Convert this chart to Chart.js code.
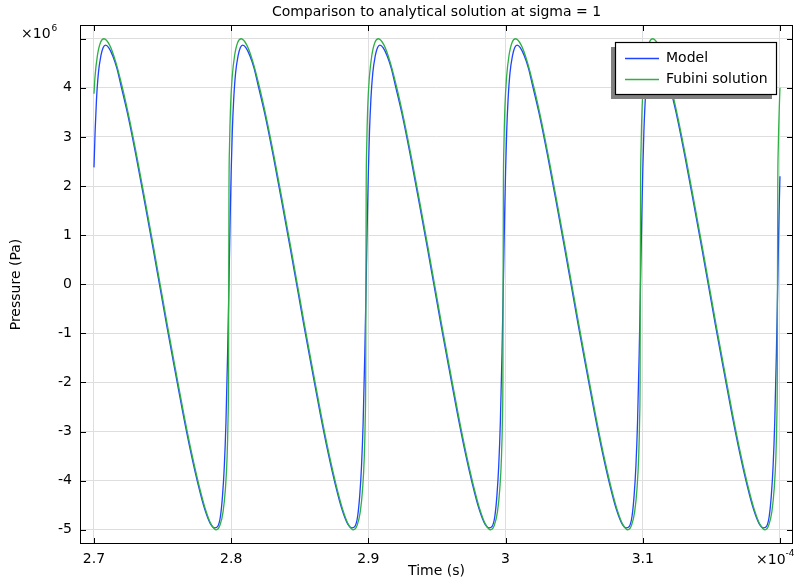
<!DOCTYPE html>
<html><head><meta charset="utf-8">
<script src="https://cdn.jsdelivr.net/npm/chart.js@4.4.1/dist/chart.umd.min.js"></script>
<style>html,body{margin:0;padding:0;background:#fff}#wrap{width:796px;height:584px}</style>
</head><body><div id="wrap"><canvas id="c" width="796" height="584"></canvas></div>
<script>
const chartTitle = 'Comparison to analytical solution at sigma = 1';
const xTitle = 'Time (s)';
const yTitle = 'Pressure (Pa)';
const seriesNames = ['Model', 'Fubini solution'];
const xTicks = [2.7, 2.8, 2.9, 3.0, 3.1, 3.2];
const xTickLabels = ['2.7', '2.8', '2.9', '3', '3.1', ''];
const yTicks = [-5, -4, -3, -2, -1, 0, 1, 2, 3, 4, 5];
const yTickLabels = ['-5', '-4', '-3', '-2', '-1', '0', '1', '2', '3', '4', ''];
const xExponent = '-4';
const yExponent = '6';

// Time in 1e-4 s, pressure in 1e6 Pa
const modelTime = [
  2.7000, 2.7008, 2.7018, 2.7032, 2.7050, 2.7067, 2.7084, 2.7107, 2.7137, 2.7167, 2.7199, 2.7252, 2.7309, 2.7369, 2.7432, 2.7477, 2.7527, 2.7590, 2.7650, 2.7707, 2.7760, 2.7807, 2.7849, 2.7880, 2.7902, 2.7922, 2.7937, 2.7950, 2.7962, 2.7974,
  2.7985, 2.7993, 2.8000, 2.8008, 2.8018, 2.8032, 2.8050, 2.8067, 2.8084, 2.8107, 2.8137, 2.8167, 2.8199, 2.8252, 2.8309, 2.8369, 2.8432, 2.8477, 2.8527, 2.8590, 2.8650, 2.8707, 2.8760, 2.8807, 2.8849, 2.8880, 2.8902, 2.8922, 2.8937, 2.8950, 2.8962, 2.8974,
  2.8985, 2.8993, 2.9000, 2.9008, 2.9018, 2.9032, 2.9050, 2.9067, 2.9084, 2.9107, 2.9137, 2.9167, 2.9199, 2.9252, 2.9309, 2.9369, 2.9432, 2.9477, 2.9527, 2.9590, 2.9650, 2.9707, 2.9760, 2.9807, 2.9849, 2.9880, 2.9902, 2.9922, 2.9937, 2.9950, 2.9962, 2.9974,
  2.9985, 2.9993, 3.0000, 3.0008, 3.0018, 3.0032, 3.0050, 3.0067, 3.0084, 3.0107, 3.0137, 3.0167, 3.0199, 3.0252, 3.0309, 3.0369, 3.0432, 3.0477, 3.0527, 3.0590, 3.0650, 3.0707, 3.0760, 3.0807, 3.0849, 3.0880, 3.0902, 3.0922, 3.0937, 3.0950, 3.0962, 3.0974,
  3.0985, 3.0993, 3.1000, 3.1008, 3.1018, 3.1032, 3.1050, 3.1067, 3.1084, 3.1107, 3.1137, 3.1167, 3.1199, 3.1252, 3.1309, 3.1369, 3.1432, 3.1477, 3.1527, 3.1590, 3.1650, 3.1707, 3.1760, 3.1807, 3.1849, 3.1880, 3.1902, 3.1922, 3.1937, 3.1950, 3.1962, 3.1974,
  3.1985, 3.1993, 3.2000
];
const modelPressure = [
  2.38, 3.10, 3.75, 4.30, 4.65, 4.82, 4.87, 4.82, 4.65, 4.40, 4.02, 3.38, 2.58, 1.68, 0.71, 0.00, -0.79, -1.75, -2.65, -3.44, -4.09, -4.58, -4.88, -4.96, -4.93, -4.72, -4.30, -3.70, -2.80, -1.40,
  0.20, 1.40, 2.30, 3.10, 3.75, 4.30, 4.65, 4.82, 4.87, 4.82, 4.65, 4.40, 4.02, 3.38, 2.58, 1.68, 0.71, 0.00, -0.79, -1.75, -2.65, -3.44, -4.09, -4.58, -4.88, -4.96, -4.93, -4.72, -4.30, -3.70, -2.80, -1.40,
  0.20, 1.40, 2.30, 3.10, 3.75, 4.30, 4.65, 4.82, 4.87, 4.82, 4.65, 4.40, 4.02, 3.38, 2.58, 1.68, 0.71, 0.00, -0.79, -1.75, -2.65, -3.44, -4.09, -4.58, -4.88, -4.96, -4.93, -4.72, -4.30, -3.70, -2.80, -1.40,
  0.20, 1.40, 2.30, 3.10, 3.75, 4.30, 4.65, 4.82, 4.87, 4.82, 4.65, 4.40, 4.02, 3.38, 2.58, 1.68, 0.71, 0.00, -0.79, -1.75, -2.65, -3.44, -4.09, -4.58, -4.88, -4.96, -4.93, -4.72, -4.30, -3.70, -2.80, -1.40,
  0.20, 1.40, 2.30, 3.10, 3.75, 4.30, 4.65, 4.82, 4.87, 4.82, 4.65, 4.40, 4.02, 3.38, 2.58, 1.68, 0.71, 0.00, -0.79, -1.75, -2.65, -3.44, -4.09, -4.58, -4.88, -4.96, -4.93, -4.72, -4.30, -3.70, -2.80, -1.40,
  0.20, 1.40, 2.20
];
const fubiniTime = [
  2.7000, 2.7007, 2.7025, 2.7048, 2.7073, 2.7114, 2.7156, 2.7204, 2.7257, 2.7314, 2.7374, 2.7437, 2.7482, 2.7532, 2.7595, 2.7655, 2.7712, 2.7765, 2.7812, 2.7854, 2.7891, 2.7918, 2.7941, 2.7958, 2.7970, 2.7977, 2.79805,
  2.7982, 2.7984, 2.7988, 2.7995, 2.8007, 2.8025, 2.8048, 2.8073, 2.8114, 2.8156, 2.8204, 2.8257, 2.8314, 2.8374, 2.8437, 2.8482, 2.8532, 2.8595, 2.8655, 2.8712, 2.8765, 2.8812, 2.8854, 2.8891, 2.8918, 2.8941, 2.8958, 2.8970, 2.8977, 2.89805,
  2.8982, 2.8984, 2.8988, 2.8995, 2.9007, 2.9025, 2.9048, 2.9073, 2.9114, 2.9156, 2.9204, 2.9257, 2.9314, 2.9374, 2.9437, 2.9482, 2.9532, 2.9595, 2.9655, 2.9712, 2.9765, 2.9812, 2.9854, 2.9891, 2.9918, 2.9941, 2.9958, 2.9970, 2.9977, 2.99805,
  2.9982, 2.9984, 2.9988, 2.9995, 3.0007, 3.0025, 3.0048, 3.0073, 3.0114, 3.0156, 3.0204, 3.0257, 3.0314, 3.0374, 3.0437, 3.0482, 3.0532, 3.0595, 3.0655, 3.0712, 3.0765, 3.0812, 3.0854, 3.0891, 3.0918, 3.0941, 3.0958, 3.0970, 3.0977, 3.09805,
  3.0982, 3.0984, 3.0988, 3.0995, 3.1007, 3.1025, 3.1048, 3.1073, 3.1114, 3.1156, 3.1204, 3.1257, 3.1314, 3.1374, 3.1437, 3.1482, 3.1532, 3.1595, 3.1655, 3.1712, 3.1765, 3.1812, 3.1854, 3.1891, 3.1918, 3.1941, 3.1958, 3.1970, 3.1977, 3.19805,
  3.1982, 3.1984, 3.1988, 3.1995, 3.2000
];
const fubiniPressure = [
  3.88, 4.21, 4.66, 4.93, 5.00, 4.87, 4.55, 4.04, 3.38, 2.58, 1.68, 0.71, 0.00, -0.79, -1.75, -2.65, -3.44, -4.09, -4.58, -4.89, -5.00, -4.91, -4.63, -4.16, -3.53, -2.75, -1.87,
  0.00, 1.95, 2.82, 3.59, 4.21, 4.66, 4.93, 5.00, 4.87, 4.55, 4.04, 3.38, 2.58, 1.68, 0.71, 0.00, -0.79, -1.75, -2.65, -3.44, -4.09, -4.58, -4.89, -5.00, -4.91, -4.63, -4.16, -3.53, -2.75, -1.87,
  0.00, 1.95, 2.82, 3.59, 4.21, 4.66, 4.93, 5.00, 4.87, 4.55, 4.04, 3.38, 2.58, 1.68, 0.71, 0.00, -0.79, -1.75, -2.65, -3.44, -4.09, -4.58, -4.89, -5.00, -4.91, -4.63, -4.16, -3.53, -2.75, -1.87,
  0.00, 1.95, 2.82, 3.59, 4.21, 4.66, 4.93, 5.00, 4.87, 4.55, 4.04, 3.38, 2.58, 1.68, 0.71, 0.00, -0.79, -1.75, -2.65, -3.44, -4.09, -4.58, -4.89, -5.00, -4.91, -4.63, -4.16, -3.53, -2.75, -1.87,
  0.00, 1.95, 2.82, 3.59, 4.21, 4.66, 4.93, 5.00, 4.87, 4.55, 4.04, 3.38, 2.58, 1.68, 0.71, 0.00, -0.79, -1.75, -2.65, -3.44, -4.09, -4.58, -4.89, -5.00, -4.91, -4.63, -4.16, -3.53, -2.75, -1.87,
  0.00, 1.95, 2.82, 3.59, 4.00
];

const colors = ['#1f44ff', '#2fb044'];
const FONT = 'DejaVu Sans';
const FS = 14;

const toPoints = (xs, ys) => xs.map((x, i) => ({x, y: ys[i]}));

const decorations = {
  id: 'decorations',
  afterDraw(chart) {
    const {ctx, chartArea: a, scales: {x, y}} = chart;
    ctx.save();
    // frame
    ctx.strokeStyle = '#000';
    ctx.lineWidth = 1;
    ctx.strokeRect(Math.round(a.left) + 0.5, Math.round(a.top) + 0.5,
      Math.round(a.right - a.left) - 1, Math.round(a.bottom - a.top) - 1);
    // inward ticks
    ctx.beginPath();
    xTicks.forEach(v => {
      const px = Math.round(x.getPixelForValue(v)) + 0.5;
      ctx.moveTo(px, a.bottom); ctx.lineTo(px, a.bottom - 6);
      ctx.moveTo(px, a.top); ctx.lineTo(px, a.top + 6);
    });
    yTicks.forEach(v => {
      const py = Math.round(y.getPixelForValue(v)) + 0.5;
      ctx.moveTo(a.left, py); ctx.lineTo(a.left + 6, py);
      ctx.moveTo(a.right, py); ctx.lineTo(a.right - 6, py);
    });
    ctx.stroke();
    // exponents
    ctx.fillStyle = '#000';
    ctx.textBaseline = 'alphabetic';
    ctx.textAlign = 'left';
    ctx.font = FS + 'px "' + FONT + '"';
    ctx.fillText('\u00d710', 21, 38);
    let w = ctx.measureText('\u00d710').width;
    ctx.font = '9px "' + FONT + '"';
    ctx.fillText(yExponent, 21 + w + 1, 31);
    ctx.font = FS + 'px "' + FONT + '"';
    ctx.fillText('\u00d710', 756, 564);
    w = ctx.measureText('\u00d710').width;
    ctx.font = '9px "' + FONT + '"';
    ctx.fillText(xExponent, 756 + w, 556);
    // legend
    const L = {x: 615.5, y: 42.5, w: 161, h: 52};
    ctx.fillStyle = '#808080';
    ctx.fillRect(L.x - 4.5, L.y + 4.5, L.w, L.h);
    ctx.fillStyle = '#fff';
    ctx.fillRect(L.x, L.y, L.w, L.h);
    ctx.strokeStyle = '#000';
    ctx.lineWidth = 1.2;
    ctx.strokeRect(L.x, L.y, L.w, L.h);
    ctx.font = FS + 'px "' + FONT + '"';
    ctx.textBaseline = 'middle';
    seriesNames.forEach((name, i) => {
      const ry = 58.5 + i * 21;
      ctx.strokeStyle = colors[i];
      ctx.lineWidth = 1.3;
      ctx.beginPath(); ctx.moveTo(625, ry); ctx.lineTo(659, ry); ctx.stroke();
      ctx.fillStyle = '#000';
      ctx.fillText(name, 666, ry);
    });
    ctx.restore();
  }
};

new Chart(document.getElementById('c'), {
  type: 'line',
  data: {
    datasets: [
      {label: seriesNames[0], data: toPoints(modelTime, modelPressure), borderColor: colors[0],
       borderWidth: 1.3, pointRadius: 0, fill: false, cubicInterpolationMode: 'monotone', order: 2},
      {label: seriesNames[1], data: toPoints(fubiniTime, fubiniPressure), borderColor: colors[1],
       borderWidth: 1.3, pointRadius: 0, fill: false, cubicInterpolationMode: 'monotone', order: 1}
    ]
  },
  options: {
    responsive: false,
    animation: false,
    devicePixelRatio: 1,
    layout: {padding: {left: 0, right: 3, top: 0, bottom: 0}},
    plugins: {
      legend: {display: false},
      tooltip: {enabled: false},
      title: {display: true, text: chartTitle, fullSize: false, color: '#000',
        font: {family: FONT, size: FS, weight: 'normal'}, padding: {top: 4, bottom: 4.2}}
    },
    scales: {
      x: {
        type: 'linear', min: 2.6898, max: 3.2095,
        afterBuildTicks: s => { s.ticks = xTicks.map(v => ({value: v})); },
        afterFit: s => { s.height = 40; },
        grid: {color: '#dedede', lineWidth: 1, drawTicks: false},
        border: {display: false},
        ticks: {color: '#000', font: {family: FONT, size: FS}, padding: 7, maxRotation: 0, autoSkip: false,
          callback: (v, i) => xTickLabels[i]},
        title: {display: true, text: xTitle, color: '#000', font: {family: FONT, size: FS},
          padding: {top: 0, bottom: 3.9}}
      },
      y: {
        type: 'linear', min: -5.29, max: 5.28,
        afterBuildTicks: s => { s.ticks = yTicks.map(v => ({value: v})); },
        afterFit: s => { s.width = 80; },
        grid: {color: '#dedede', lineWidth: 1, drawTicks: false},
        border: {display: false},
        ticks: {color: '#000', font: {family: FONT, size: FS}, padding: 8, autoSkip: false,
          callback: (v, i) => yTickLabels[i]},
        title: {display: true, text: yTitle, color: '#000', font: {family: FONT, size: FS},
          padding: {top: 8.3, bottom: 0}}
      }
    }
  },
  plugins: [decorations]
});
</script></body></html>
